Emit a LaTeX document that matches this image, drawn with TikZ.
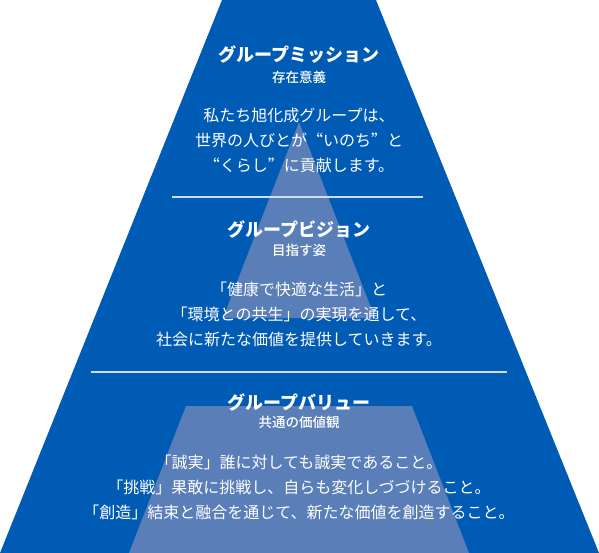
\documentclass[tikz,border=0pt]{standalone}
\usepackage{fontspec}
\setmainfont{Noto Sans CJK JP}
\newfontfamily\bodyfont[RawFeature=+fwid]{Noto Sans CJK JP}
\newfontfamily\medfont{Noto Sans CJK JP Medium}
\definecolor{pyrblue}{RGB}{0,91,180}
\definecolor{pyrlight}{RGB}{90,126,184}
\definecolor{linecol}{RGB}{204,222,240}

\tikzset{
  titletext/.style={text=white, font=\fontsize{18}{18}\selectfont\bfseries},
  subtext/.style={text=white, font=\medfont\fontsize{13.5}{13.5}\selectfont},
  bodytext/.style={text=white, align=center, font=\bodyfont\fontsize{16}{25}\selectfont},
  sepline/.style={draw=linecol, line width=2pt},
}

\begin{document}
\begin{tikzpicture}[x=1pt, y=-1pt]
  \useasboundingbox (0,0) rectangle (599,553);
  \coordinate (TL) at (222,0);
  \coordinate (TR) at (376,0);
  \coordinate (BR) at (599,553);
  \coordinate (BL) at (0,553);

  \fill[pyrblue] (TL) -- (TR) -- (BR) -- (BL) -- cycle;
  % 中央の三角形
  \fill[pyrlight] (299,122) -- (375,318) -- (223,318) -- cycle;
  % 下段の台形
  \fill[pyrlight] (186,406) -- (412,406) -- (469,553) -- (129,553) -- cycle;

  \draw[sepline] (172,197) -- (423,197);
  \draw[sepline] (91,372) -- (507,372);

  \node[titletext] (mission) at (299,55) {グループミッション};
  \node[subtext]   (missionsub) at (299,77) {存在意義};
  \node[bodytext]  (missionbody) at (299,140) {私たち旭化成グループは、\\世界の人びとが“いのち”と\\“くらし”に貢献します。};

  \node[titletext] (vision) at (299,229) {グループビジョン};
  \node[subtext]   (visionsub) at (299,250) {目指す姿};
  \node[bodytext]  (visionbody) at (299,314) {「健康で快適な生活」と\\「環境との共生」の実現を通して、\\社会に新たな価値を提供していきます。};

  \node[titletext] (value) at (299,402) {グループバリュー};
  \node[subtext]   (valuesub) at (299,422) {共通の価値観};
  \node[bodytext]  (valuebody) at (299,487) {「誠実」誰に対しても誠実であること。\\「挑戦」果敢に挑戦し、自らも変化しづづけること。\\「創造」結束と融合を通じて、新たな価値を創造すること。};
\end{tikzpicture}
\end{document}
